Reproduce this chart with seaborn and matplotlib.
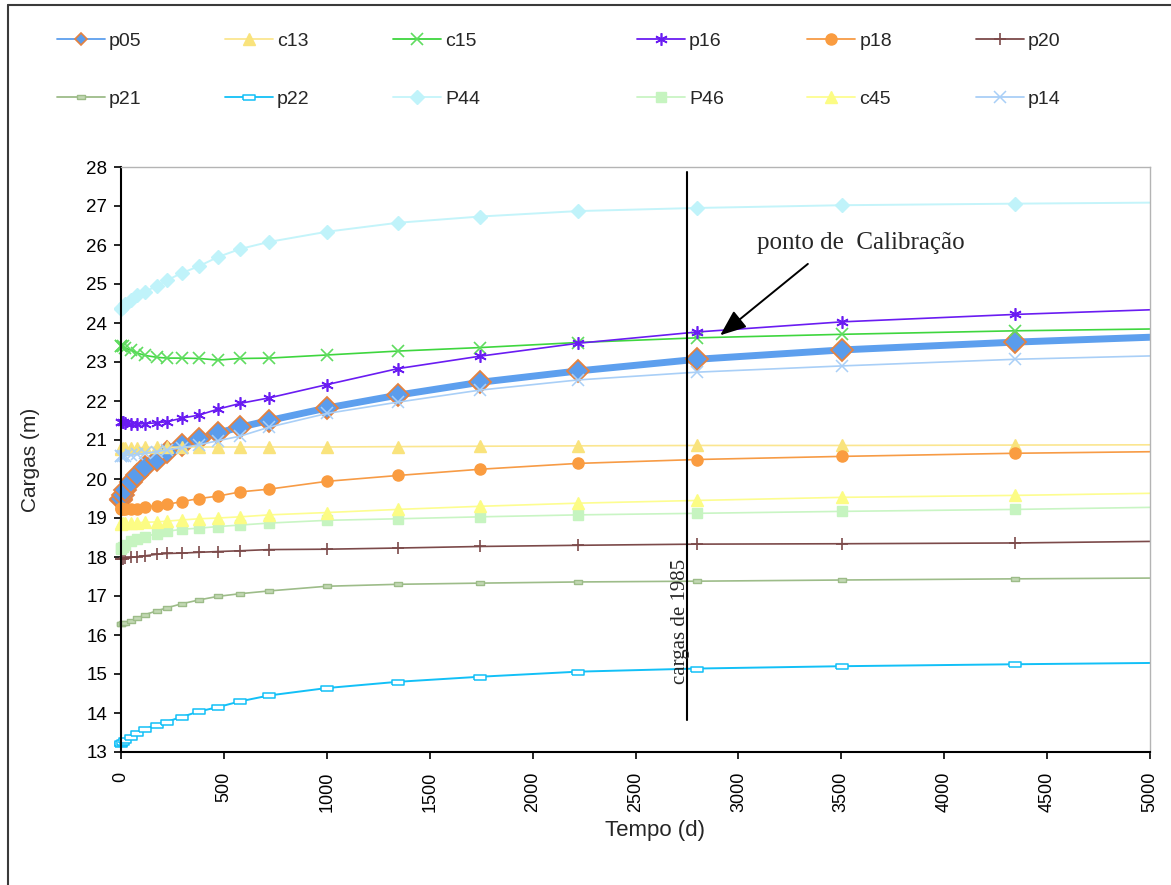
import numpy as np
import matplotlib
matplotlib.use("Agg")
import matplotlib.pyplot as plt
from matplotlib.lines import Line2D
from matplotlib.transforms import Bbox, TransformedBbox
import seaborn as sns

# Simulation times (days)
t_days = [0, 2, 8, 20, 50, 80, 115, 175, 225, 295, 380, 470, 580, 720,
          1000, 1345, 1745, 2220, 2800, 3505, 4345, 5340]

# Simulated heads per observation well (m)
p05 = [19.45, 19.50, 19.58, 19.72, 19.92, 20.10, 20.30, 20.50, 20.68, 20.86, 21.03,
       21.18, 21.33, 21.50, 21.82, 22.15, 22.48, 22.77, 23.07, 23.31, 23.51, 23.70]
c13 = [20.78, 20.79, 20.79, 20.80, 20.80, 20.80, 20.81, 20.81, 20.81, 20.82, 20.82,
       20.82, 20.82, 20.82, 20.82, 20.83, 20.84, 20.85, 20.86, 20.86, 20.87, 20.88]
c15 = [23.42, 23.42, 23.40, 23.36, 23.30, 23.23, 23.17, 23.12, 23.10, 23.10, 23.09,
       23.05, 23.09, 23.10, 23.18, 23.28, 23.37, 23.50, 23.62, 23.71, 23.80, 23.87]
p16 = [21.47, 21.46, 21.45, 21.43, 21.41, 21.41, 21.42, 21.44, 21.47, 21.56, 21.64,
       21.79, 21.94, 22.08, 22.42, 22.83, 23.15, 23.48, 23.77, 24.03, 24.22, 24.40]
p18 = [19.25, 19.24, 19.23, 19.22, 19.22, 19.24, 19.28, 19.32, 19.35, 19.42, 19.50,
       19.56, 19.67, 19.74, 19.94, 20.09, 20.25, 20.40, 20.50, 20.58, 20.66, 20.72]
p20 = [17.95, 17.95, 17.96, 17.97, 17.99, 18.01, 18.03, 18.07, 18.09, 18.10, 18.12,
       18.14, 18.16, 18.19, 18.20, 18.23, 18.27, 18.30, 18.33, 18.34, 18.36, 18.42]
p21 = [16.28, 16.29, 16.30, 16.32, 16.37, 16.43, 16.52, 16.62, 16.70, 16.80, 16.90,
       16.99, 17.06, 17.13, 17.25, 17.30, 17.33, 17.36, 17.38, 17.41, 17.44, 17.47]
p22 = [13.20, 13.22, 13.25, 13.30, 13.38, 13.48, 13.58, 13.70, 13.78, 13.90, 14.04,
       14.15, 14.30, 14.45, 14.64, 14.80, 14.93, 15.06, 15.14, 15.20, 15.25, 15.30]
P44 = [24.35, 24.38, 24.42, 24.50, 24.60, 24.72, 24.80, 24.95, 25.10, 25.28, 25.46,
       25.69, 25.90, 26.08, 26.34, 26.57, 26.73, 26.87, 26.95, 27.02, 27.06, 27.10]
P46 = [18.20, 18.22, 18.26, 18.30, 18.40, 18.46, 18.52, 18.60, 18.66, 18.71, 18.74,
       18.78, 18.82, 18.87, 18.94, 18.98, 19.03, 19.08, 19.12, 19.17, 19.22, 19.30]
c45 = [18.85, 18.86, 18.86, 18.87, 18.87, 18.88, 18.89, 18.90, 18.92, 18.95, 18.98,
       19.00, 19.03, 19.08, 19.14, 19.22, 19.30, 19.38, 19.45, 19.53, 19.58, 19.66]
p14 = [20.60, 20.60, 20.60, 20.60, 20.61, 20.63, 20.66, 20.70, 20.75, 20.80, 20.88,
       20.98, 21.10, 21.33, 21.68, 21.97, 22.28, 22.54, 22.74, 22.90, 23.07, 23.20]

series_names = ["p05", "c13", "c15", "p16", "p18", "p20",
                "p21", "p22", "P44", "P46", "c45", "p14"]
series_values = [p05, c13, c15, p16, p18, p20, p21, p22, P44, P46, c45, p14]

x_ticks = [0, 500, 1000, 1500, 2000, 2500, 3000, 3500, 4000, 4500, 5000]
y_ticks = list(range(13, 29))

calib_time = 2750
calib_label = "cargas de 1985"
calib_note = "ponto de  Calibração"

# Dash-shaped marker used by p21/p22
dash = [(-1, -0.45), (1, -0.45), (1, 0.45), (-1, 0.45), (-1, -0.45)]

styles = {
    "p05": dict(color="#5d9fee", lw=5.0, marker="D", ms=11, mfc="#5a9cec", mec="#e5823f", mew=1.3),
    "c13": dict(color="#fbe690", lw=1.2, marker="^", ms=8.5, mfc="#f9e37c", mec="#f9e37c", mew=1),
    "c15": dict(color="#3ed63e", lw=1.2, marker="x", ms=9, mfc="#5fdc5f", mec="#5fdc5f", mew=1.2),
    "p16": dict(color="#6a1cf2", lw=1.2, marker=(6, 2, 0), ms=9, mfc="#6a1cf2", mec="#6a1cf2", mew=1.2),
    "p18": dict(color="#f79b45", lw=1.2, marker="o", ms=8, mfc="#fa9c40", mec="#fa9c40", mew=1),
    "p20": dict(color="#7c4a4a", lw=1.2, marker="+", ms=9, mfc="#7c4a4a", mec="#7c4a4a", mew=1.2),
    "p21": dict(color="#9dbc89", lw=1.2, marker=dash, ms=5.5, mfc="#c2d8b3", mec="#9dbc89", mew=1),
    "p22": dict(color="#12c0f7", lw=1.4, marker=dash, ms=8, mfc="white", mec="#12c0f7", mew=1.1),
    "P44": dict(color="#c4f4fa", lw=1.4, marker="D", ms=7, mfc="#c0f3fa", mec="#c0f3fa", mew=1),
    "P46": dict(color="#c9f5c4", lw=1.2, marker="s", ms=7.5, mfc="#c6f4c0", mec="#c6f4c0", mew=1),
    "c45": dict(color="#fdfd90", lw=1.2, marker="^", ms=8, mfc="#fcfc84", mec="#fcfc84", mew=1),
    "p14": dict(color="#a9cff7", lw=1.2, marker="x", ms=8, mfc="#a9cff7", mec="#a9cff7", mew=1.1),
}

sns.set_style("white")
plt.rcParams["font.family"] = ["Liberation Sans", "DejaVu Sans"]

W, H = 1171, 885
fig = plt.figure(figsize=(W / 100, H / 100), dpi=100)
ax = fig.add_axes([121 / W, 1 - 752 / H, (1150 - 121) / W, (752 - 167) / H])

clip = TransformedBbox(Bbox([[-0.04, -0.04], [1.0, 1.04]]), ax.transAxes)
for name, vals in zip(series_names, series_values):
    st = styles[name]
    sns.lineplot(x=t_days, y=vals, ax=ax, label=name, color=st["color"],
                 linewidth=st["lw"], marker=st["marker"], markersize=st["ms"],
                 markerfacecolor=st["mfc"], markeredgecolor=st["mec"],
                 markeredgewidth=st["mew"])
    ax.lines[-1].set_clip_box(clip)

ax.set_xlim(0, 5000)
ax.set_ylim(13, 28)
ax.set_xticks(x_ticks)
ax.set_yticks(y_ticks)
ax.set_xticklabels([str(v) for v in x_ticks], rotation=90, fontsize=13)
ax.set_yticklabels([str(v) for v in y_ticks], fontsize=13.5)
ax.tick_params(axis="x", direction="out", length=5, width=1.2, pad=9, colors="black")
ax.tick_params(axis="y", direction="out", length=5, width=1.2, pad=5, colors="black")
ax.tick_params(axis="both", bottom=True, left=True)

for side in ("left", "bottom"):
    ax.spines[side].set_color("black")
    ax.spines[side].set_linewidth(1.5)
for side in ("top", "right"):
    ax.spines[side].set_color("#b4b4b4")
    ax.spines[side].set_linewidth(1.0)

ax.set_xlabel("Tempo (d)", fontsize=16)
ax.set_ylabel("Cargas (m)", fontsize=15)
ax.xaxis.set_label_coords(0.519, -0.117)
ax.yaxis.set_label_coords(-0.079, 0.50)

# Calibration marker line and its labels
ax.axvline(calib_time, ymin=(13.82 - 13) / 15, ymax=(27.87 - 13) / 15,
           color="black", lw=1.5, zorder=5)
ax.text(calib_time - 30, 16.36, calib_label, rotation=90, ha="center", va="center",
        fontsize=15, family=["Liberation Serif", "DejaVu Serif"], zorder=6)
ax.text(3090, 26.05, calib_note, ha="left", va="center", fontsize=18,
        family=["Liberation Serif", "DejaVu Serif"])
ax.annotate("", xy=(2901, 23.64), xytext=(3348, 25.56),
            arrowprops=dict(arrowstyle="-|>,head_length=0.8,head_width=0.32",
                            color="black", lw=1.4, mutation_scale=20))

# Two legend groups above the plot area
handles, labels = ax.get_legend_handles_labels()
hmap = dict(zip(labels, handles))
ax.get_legend().remove()

left_order = ["p05", "p21", "c13", "p22", "c15", "P44"]
right_order = ["p16", "P46", "p18", "c45", "p20", "p14"]
leg_kw = dict(ncol=3, frameon=False, fontsize=14, loc="upper left",
              borderpad=0, borderaxespad=0, handlelength=2.47, handletextpad=0.2,
              columnspacing=4.3, labelspacing=2.08, bbox_transform=fig.transFigure)
leg1 = fig.legend([hmap[k] for k in left_order], left_order,
                  bbox_to_anchor=(57 / W, 1 - 32 / H), **leg_kw)
leg2 = fig.legend([hmap[k] for k in right_order], right_order,
                  bbox_to_anchor=(637 / W, 1 - 32 / H), **leg_kw)
for leg in (leg1, leg2):
    for h, txt in zip(leg.legend_handles, leg.get_texts()):
        h.set_linewidth(1.3)
        if txt.get_text() == "p05":
            h.set_markersize(6)
            h.set_markeredgewidth(1.2)

# Outer frame around the figure
fig.add_artist(Line2D([8 / W, 8 / W], [0, 1 - 5 / H], transform=fig.transFigure,
                      color="#3a3a3a", lw=1.5))
fig.add_artist(Line2D([8 / W, 1], [1 - 5 / H, 1 - 5 / H], transform=fig.transFigure,
                      color="#3a3a3a", lw=1.5))

fig.savefig("out.png", dpi=100, facecolor="white")
